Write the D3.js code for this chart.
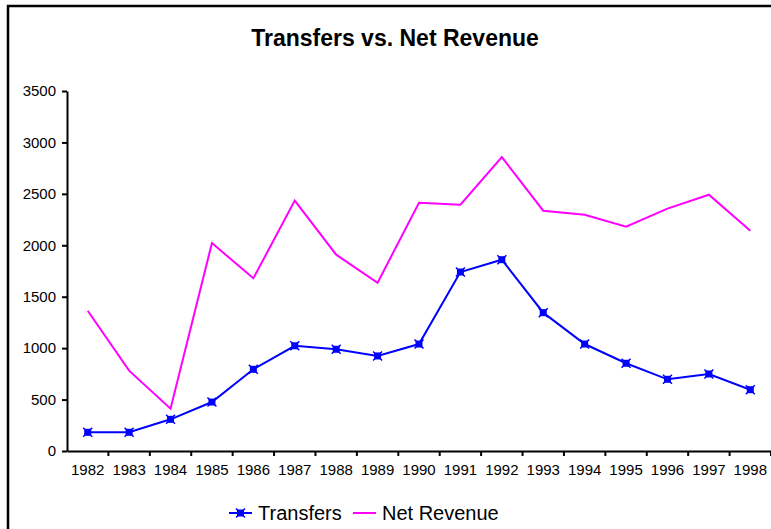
<!DOCTYPE html>
<html>
<head>
<meta charset="utf-8">
<script src="https://cdn.jsdelivr.net/npm/d3@7"></script>
<style>
  body { margin: 0; background: #fff; }
  svg { display: block; font-family: "Liberation Sans", Arial, sans-serif; }
</style>
</head>
<body>
<div id="container"></div>
<script>
// chart data
var years = ["1982", "1983", "1984", "1985", "1986", "1987", "1988", "1989", "1990",
             "1991", "1992", "1993", "1994", "1995", "1996", "1997", "1998"];
var transfers = [182, 182, 308, 476, 794, 1023, 989, 924, 1040,
                 1740, 1860, 1345, 1040, 853, 697, 749, 596];
var netRevenue = [1364, 781, 411, 2022, 1679, 2434, 1909, 1636, 2414,
                  2395, 2858, 2336, 2297, 2181, 2356, 2492, 2142];
var yTicks = [0, 500, 1000, 1500, 2000, 2500, 3000, 3500];

var width = 771, height = 529;
var margin = { top: 91, right: 0, bottom: 78, left: 67 };

var svg = d3.select("#container").append("svg")
    .attr("width", width)
    .attr("height", height);

// outer frame, runs off the right / bottom edge like the original
svg.append("rect")
    .attr("x", 8).attr("y", 6)
    .attr("width", 820).attr("height", 600)
    .attr("fill", "none")
    .attr("stroke", "#000")
    .attr("stroke-width", 2.5);

svg.append("text")
    .attr("x", 395).attr("y", 46)
    .attr("text-anchor", "middle")
    .style("font-size", "23px")
    .style("font-weight", "bold")
    .text("Transfers vs. Net Revenue");

var x = d3.scaleBand()
    .domain(years)
    .range([margin.left, width - margin.right]);

var y = d3.scaleLinear()
    .domain([0, 3500])
    .range([height - margin.bottom, margin.top]);

// y axis
var yAxis = svg.append("g")
    .attr("transform", "translate(" + margin.left + ",0)")
    .call(d3.axisLeft(y).tickValues(yTicks).tickFormat(d3.format("d"))
        .tickSize(5).tickPadding(6).tickSizeOuter(0));
yAxis.select(".domain").attr("stroke-width", 2);
yAxis.selectAll(".tick line").attr("stroke-width", 2);
yAxis.selectAll("text").style("font-size", "15px").attr("fill", "#000");

// x axis: labels centred in bands, ticks on band edges
var y0 = y(0);
var xAxis = svg.append("g")
    .attr("transform", "translate(0," + y0 + ")")
    .call(d3.axisBottom(x).tickSize(0).tickPadding(13).tickSizeOuter(0));
xAxis.select(".domain").attr("stroke-width", 2);
xAxis.selectAll("text").style("font-size", "15px").attr("fill", "#000");

svg.append("g").selectAll("line")
    .data(years.slice(1).concat(["end"]))
    .enter().append("line")
    .attr("x1", function (d, i) { return x(years[0]) + (i + 1) * x.bandwidth(); })
    .attr("x2", function (d, i) { return x(years[0]) + (i + 1) * x.bandwidth(); })
    .attr("y1", y0)
    .attr("y2", y0 + 5)
    .attr("stroke", "#000")
    .attr("stroke-width", 2);

var cx = function (d, i) { return x(years[i]) + x.bandwidth() / 2; };

var line = d3.line()
    .x(cx)
    .y(function (d) { return y(d); });

svg.append("path")
    .datum(netRevenue)
    .attr("d", line)
    .attr("fill", "none")
    .attr("stroke", "#ff00ff")
    .attr("stroke-width", 2);

svg.append("path")
    .datum(transfers)
    .attr("d", line)
    .attr("fill", "none")
    .attr("stroke", "#0000ff")
    .attr("stroke-width", 2);

// excel style box-with-star marker
function marker(sel) {
    sel.append("rect")
        .attr("x", -3.5).attr("y", -3.5)
        .attr("width", 7).attr("height", 7)
        .attr("fill", "#0000ff");
    sel.append("path")
        .attr("d", "M-4.5,-4.5L4.5,4.5M-4.5,4.5L4.5,-4.5")
        .attr("stroke", "#0000ff")
        .attr("stroke-width", 1.5);
}

svg.append("g").selectAll("g")
    .data(transfers)
    .enter().append("g")
    .attr("transform", function (d, i) { return "translate(" + cx(d, i) + "," + y(d) + ")"; })
    .call(marker);

// legend
var legend = svg.append("g");
legend.append("line")
    .attr("x1", 229).attr("x2", 252).attr("y1", 513).attr("y2", 513)
    .attr("stroke", "#0000ff").attr("stroke-width", 2);
legend.append("g")
    .attr("transform", "translate(240.5,513)")
    .call(marker);
legend.append("text")
    .attr("x", 258).attr("y", 520)
    .style("font-size", "20px")
    .text("Transfers");

legend.append("line")
    .attr("x1", 353).attr("x2", 376).attr("y1", 513).attr("y2", 513)
    .attr("stroke", "#ff00ff").attr("stroke-width", 2);
legend.append("text")
    .attr("x", 382).attr("y", 520)
    .style("font-size", "20px")
    .text("Net Revenue");
</script>
</body>
</html>
